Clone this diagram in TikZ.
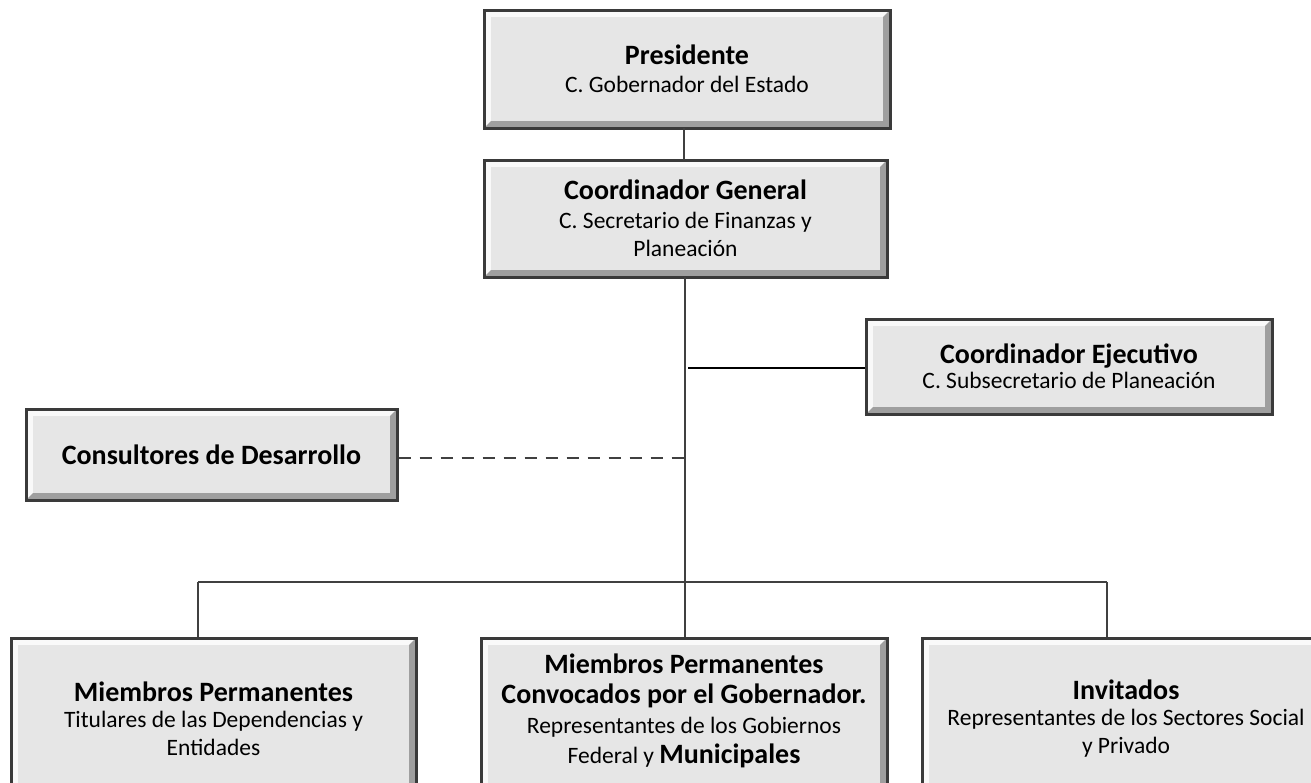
\documentclass[tikz,border=0pt]{standalone}
\usepackage{fontspec}
\setmainfont{Carlito}
\usetikzlibrary{calc}
\definecolor{boxfill}{HTML}{E6E6E6}
\definecolor{boxborder}{HTML}{3A3A3A}
\definecolor{linecol}{HTML}{404040}
\newcommand{\regf}{\fontsize{23.5}{28}\selectfont}
\newcommand{\titf}[1]{{\bfseries\fontsize{28}{31}\selectfont #1}}
\tikzset{
  orgbox/.style={draw=boxborder, line width=3pt, fill=boxfill, inner sep=0pt,
    align=center, font=\regf,
    path picture={
      \fill[white!75!boxfill]
        (path picture bounding box.north west) -- (path picture bounding box.north east)
        -- ([xshift=-7pt,yshift=-7pt]path picture bounding box.north east)
        -- ([xshift=7pt,yshift=-7pt]path picture bounding box.north west)
        -- ([xshift=7pt,yshift=7pt]path picture bounding box.south west)
        -- (path picture bounding box.south west) -- cycle;
      \fill[gray!75]
        (path picture bounding box.south east) -- (path picture bounding box.north east)
        -- ([xshift=-7pt,yshift=-7pt]path picture bounding box.north east)
        -- ([xshift=-7pt,yshift=7pt]path picture bounding box.south east)
        -- ([xshift=7pt,yshift=7pt]path picture bounding box.south west)
        -- (path picture bounding box.south west) -- cycle;
      \fill[boxfill]
        ([xshift=7pt,yshift=-7pt]path picture bounding box.north west) rectangle
        ([xshift=-7pt,yshift=7pt]path picture bounding box.south east);
    }},
  boxtext/.style={align=center, font=\regf, inner sep=0pt},
  conn/.style={draw=linecol, line width=2.2pt},
  thinconn/.style={draw=black, line width=1.2pt},
  dashconn/.style={draw=linecol, line width=2.6pt, dash pattern=on 12pt off 9pt},
}
\begin{document}
\begin{tikzpicture}[x=1pt,y=-1pt]
\useasboundingbox (0,0) rectangle (1311,782);
\clip (0,0) rectangle (1311,782);
\fill[white] (0,0) rectangle (1311,782);

% boxes
\node[orgbox, minimum width=406pt, minimum height=118pt] (pres) at (687,69)
  {\titf{Presidente}\\[0pt] C. Gobernador del Estado};
\node[orgbox, minimum width=403pt, minimum height=117pt] (cg) at (685.5,218.5)
  {\titf{Coordinador General}\\[1pt] C. Secretario de Finanzas y\\ Planeación};
\node[orgbox, minimum width=406pt, minimum height=95pt] (ce) at (1069,366.5)
  {\titf{Coordinador Ejecutivo}\\[-3pt] C. Subsecretario de Planeación};
\node[orgbox, minimum width=371pt, minimum height=91pt] (cons) at (211.5,454.5)
  {\titf{Consultores de Desarrollo}};
\node[orgbox, minimum width=405pt, minimum height=162pt] (mp) at (213.5,719)
  {\titf{Miembros Permanentes}\\[-2pt] Titulares de las Dependencias y\\ Entidades};
\node[orgbox, minimum width=406pt, minimum height=162pt] (mpc) at (684,719) {};
\node[boxtext] (mpctext) at (684,711)
  {\titf{Miembros Permanentes}\\[2pt] \titf{Convocados por el Gobernador.}\\[2pt]
   Representantes de los Gobiernos\\[2pt] Federal y \titf{Municipales}};
\node[orgbox, minimum width=408pt, minimum height=162pt] (inv) at (1126,719)
  {\titf{Invitados}\\[-2pt] Representantes de los Sectores Social\\ y Privado};

% junction coordinates
\coordinate (top1) at (684,128);
\coordinate (top2) at (684,160);
\coordinate (trunkTop) at (685,277);
\coordinate (bus) at (685,582);
\coordinate (jce) at (688,368);
\coordinate (jcons) at (684,458);
\coordinate (busL) at (198,582);
\coordinate (busR) at (1107,582);

\draw[conn] (top1) -- (top2);
\draw[conn] (trunkTop) -- (bus);
\draw[thinconn] (jce) -- (jce -| ce.west);
\draw[dashconn] (cons.east |- jcons) -- (jcons);
\draw[conn] (busL) -- (busR);
\draw[conn] (busL) -- (busL |- mp.north);
\draw[conn] (bus) -- (bus |- mpc.north);
\draw[conn] (busR) -- (busR |- inv.north);
\end{tikzpicture}
\end{document}
